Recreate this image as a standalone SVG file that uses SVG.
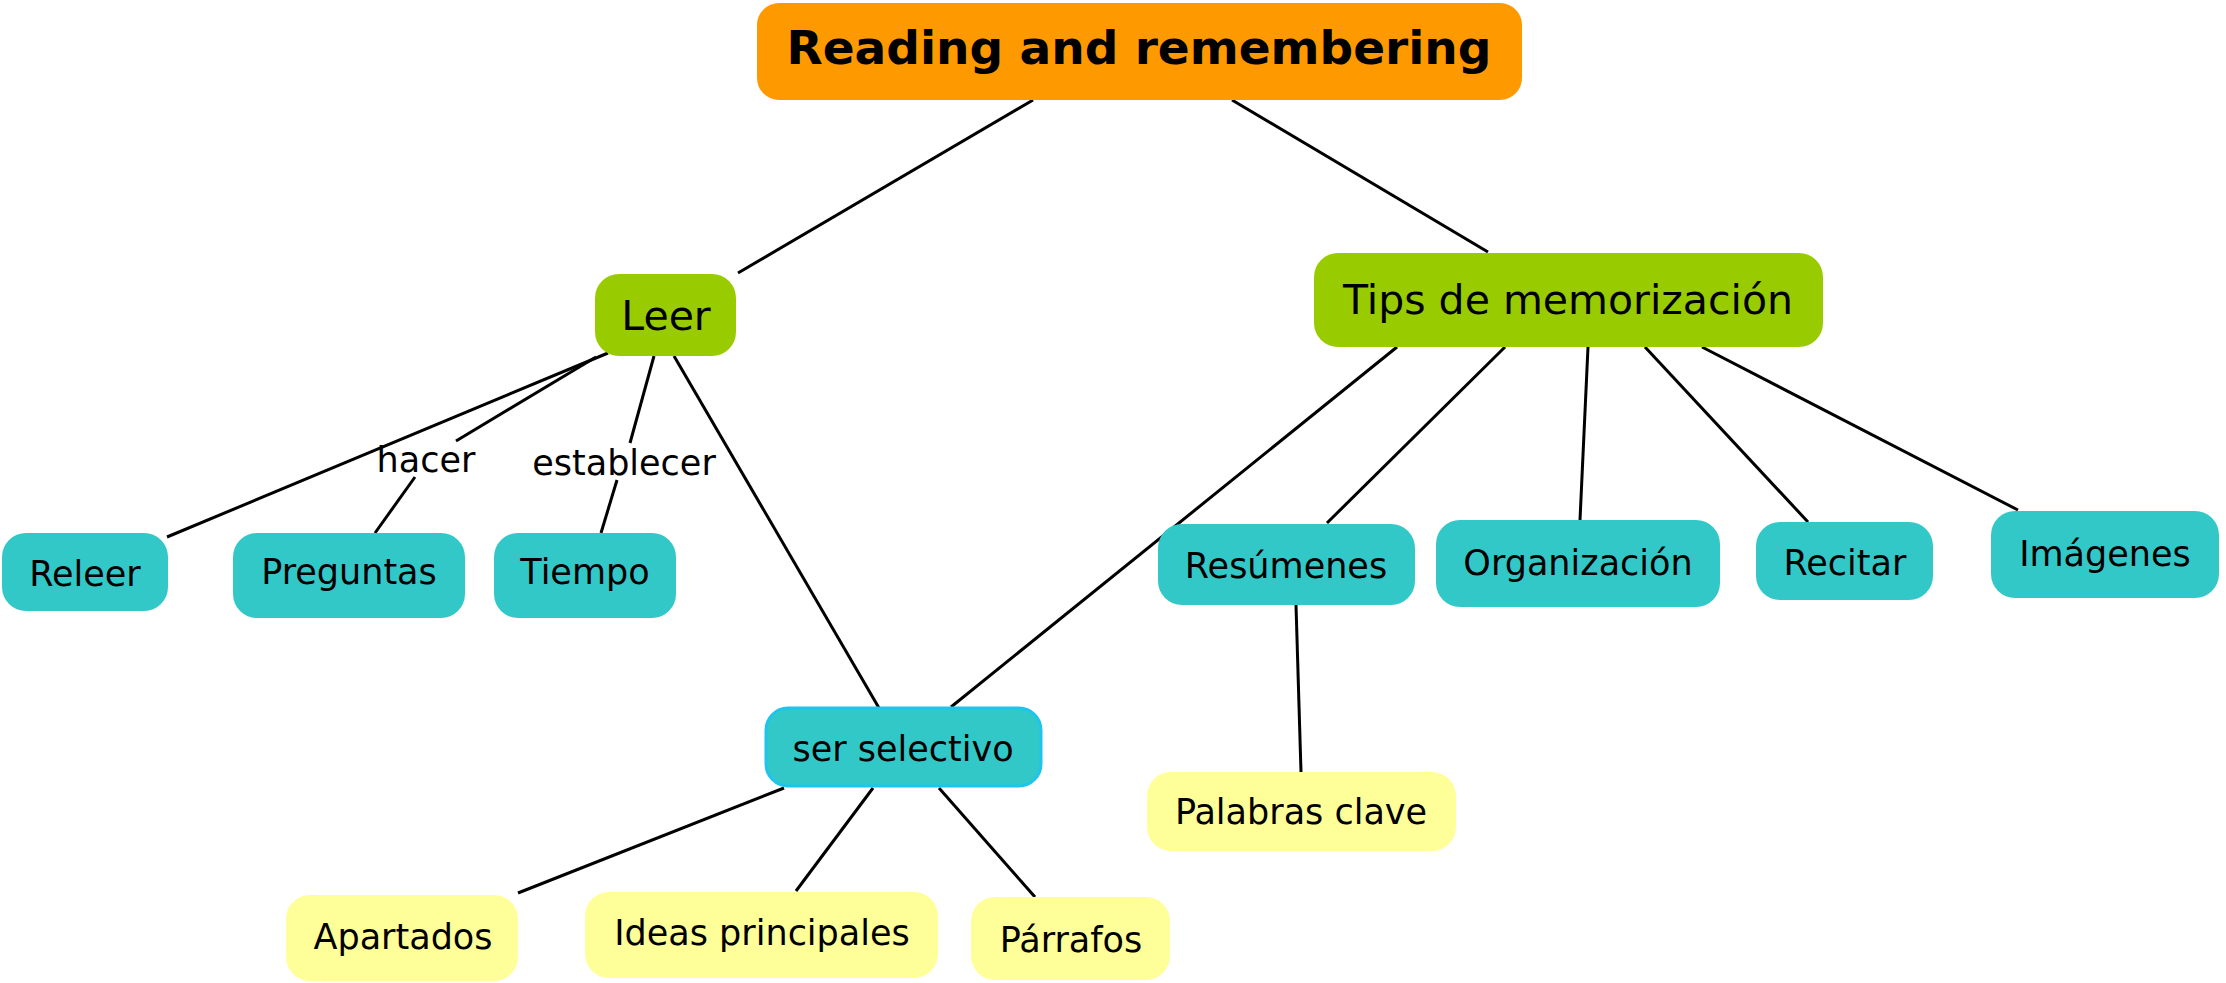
<svg xmlns="http://www.w3.org/2000/svg" width="2226" height="983" viewBox="0 0 2226 983">
<style>
text{font-family:"DejaVu Sans","Verdana",sans-serif;font-size:35px;fill:#000;text-anchor:middle}
.root rect{fill:#ff9900}
.root text{font-size:47px;font-weight:bold}
.green rect{fill:#99cc00}
.green text{font-size:41px}
.teal rect{fill:#33c8c8}
.yellow rect{fill:#ffff99}
.sel rect{fill:#33c8c8;stroke:#1ec4ee;stroke-width:3}
#connectors line{stroke:#000;stroke-width:3;fill:none}
</style>
<rect width="2226" height="983" fill="#fff"/>
<g id="connectors">
<line x1="1033" y1="100" x2="738" y2="273"/>
<line x1="1232" y1="100" x2="1488" y2="252"/>
<line x1="608" y1="353" x2="167" y2="537"/>
<line x1="596" y1="357" x2="456" y2="441"/>
<line x1="415" y1="477" x2="375" y2="533"/>
<line x1="654" y1="356" x2="630" y2="443"/>
<line x1="617" y1="480" x2="601" y2="533"/>
<line x1="674" y1="356" x2="879" y2="708"/>
<line x1="1397" y1="347" x2="951" y2="707"/>
<line x1="1505" y1="347" x2="1327" y2="523"/>
<line x1="1588" y1="347" x2="1580" y2="520"/>
<line x1="1645" y1="347" x2="1808" y2="522"/>
<line x1="1702" y1="347" x2="2018" y2="510"/>
<line x1="1296" y1="605" x2="1301" y2="772"/>
<line x1="784" y1="788" x2="518" y2="893"/>
<line x1="873" y1="788" x2="796" y2="891"/>
<line x1="939" y1="788" x2="1035" y2="897"/>
</g>
<g id="label-hacer"><text x="426" y="472">hacer</text></g>
<g id="label-establecer"><text x="624" y="475">establecer</text></g>
<g id="root" class="root"><rect x="757" y="3" width="765" height="97" rx="22"/><text x="1139" y="64">Reading and remembering</text></g>
<g id="leer" class="green"><rect x="595" y="274" width="141" height="82" rx="24"/><text x="666" y="330">Leer</text></g>
<g id="tips" class="green"><rect x="1314" y="253" width="509" height="94" rx="24"/><text x="1568" y="314">Tips de memorización</text></g>
<g id="releer" class="teal"><rect x="2" y="533" width="166" height="78" rx="24"/><text x="85" y="586">Releer</text></g>
<g id="preguntas" class="teal"><rect x="233" y="533" width="232" height="85" rx="24"/><text x="349" y="584">Preguntas</text></g>
<g id="tiempo" class="teal"><rect x="494" y="533" width="182" height="85" rx="24"/><text x="585" y="584">Tiempo</text></g>
<g id="ser-selectivo" class="sel"><rect x="766" y="708" width="275" height="78" rx="22"/><text x="903" y="761">ser selectivo</text></g>
<g id="resumenes" class="teal"><rect x="1158" y="524" width="257" height="81" rx="24"/><text x="1286" y="578">Resúmenes</text></g>
<g id="organizacion" class="teal"><rect x="1436" y="520" width="284" height="87" rx="24"/><text x="1578" y="575">Organización</text></g>
<g id="recitar" class="teal"><rect x="1756" y="522" width="177" height="78" rx="24"/><text x="1845" y="575">Recitar</text></g>
<g id="imagenes" class="teal"><rect x="1991" y="511" width="228" height="87" rx="24"/><text x="2105" y="566">Imágenes</text></g>
<g id="palabras-clave" class="yellow"><rect x="1147" y="772" width="309" height="79" rx="24"/><text x="1301" y="824">Palabras clave</text></g>
<g id="apartados" class="yellow"><rect x="286" y="895" width="232" height="86" rx="24"/><text x="403" y="949">Apartados</text></g>
<g id="ideas-principales" class="yellow"><rect x="585" y="892" width="353" height="86" rx="24"/><text x="762" y="945">Ideas principales</text></g>
<g id="parrafos" class="yellow"><rect x="971" y="897" width="199" height="83" rx="24"/><text x="1071" y="952">Párrafos</text></g>
</svg>
